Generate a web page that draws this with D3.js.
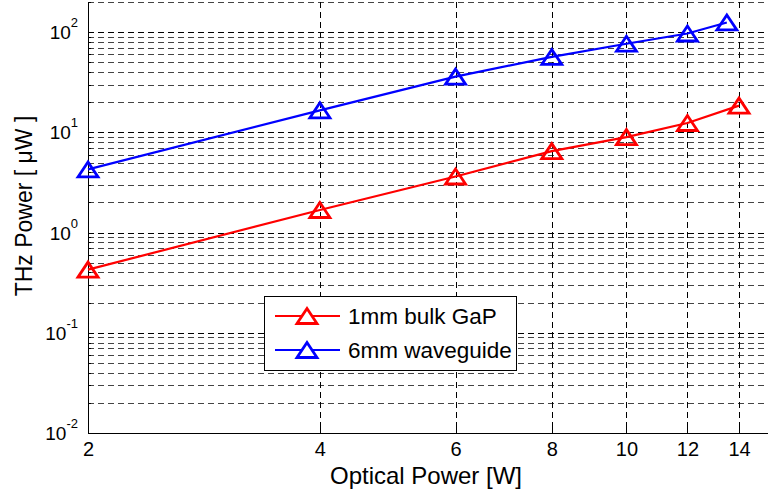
<!DOCTYPE html>
<html><head><meta charset="utf-8">
<script src="https://cdn.jsdelivr.net/npm/d3@7"></script>
<style>body{margin:0;background:#fff}svg{display:block}text{font-family:"Liberation Sans",Arial,sans-serif}</style>
</head><body>
<svg id="c" width="768" height="492"></svg>
<script>
const xValsRed = [2, 4, 6, 8, 10, 12, 14];
const redValues = [0.427, 1.68, 3.63, 6.5, 8.97, 12.4, 18.5];
const xValsBlue = [2, 4, 6, 8, 10, 12, 13.5];
const blueValues = [4.27, 16.6, 36, 56.6, 76.7, 97, 125];
const xTicks = [2, 4, 6, 8, 10, 12, 14];
const yExponents = [-2, -1, 0, 1, 2];
const seriesNames = ["1mm bulk GaP", "6mm waveguide"];
const seriesColors = ["#ff0000", "#0000ff"];

const svg = d3.select("#c");
const L = 88, T = 2, B = 433;
const x = d3.scaleLog().domain([2, 14]).range([L, 739]);
const R = 770;
const y = d3.scaleLog().domain([0.01, 200]).range([B, T]);

// grid
const g = svg.append("g").attr("shape-rendering", "crispEdges");
const minorY = [];
for (let e = -2; e <= 2; e++) for (let k = 1; k <= 9; k++) { const v = k * Math.pow(10, e); if (v <= 200 && v > 0.01) minorY.push(v); }
const isMajor = d => Math.abs(Math.log10(d) - Math.round(Math.log10(d))) < 1e-9;
g.selectAll(".hg").data(minorY).enter().append("line")
  .attr("x1", L).attr("x2", R).attr("y1", d => Math.round(y(d)) + 0.5).attr("y2", d => Math.round(y(d)) + 0.5)
  .attr("stroke", d => isMajor(d) ? "#000" : "#444")
  .attr("stroke-dasharray", "6,4").attr("stroke-width", 1);
g.selectAll(".vg").data(xTicks.slice(1)).enter().append("line")
  .attr("y1", T).attr("y2", B).attr("x1", d => Math.round(x(d)) + 0.5).attr("x2", d => Math.round(x(d)) + 0.5)
  .attr("stroke", "#000").attr("stroke-dasharray", "6,4").attr("stroke-width", 1);

// axes
const xAxis = d3.axisBottom(x).tickValues(xTicks).tickFormat(d3.format("d")).tickSizeInner(-6).tickSizeOuter(0).tickPadding(9);
const xa = svg.append("g").attr("transform", `translate(0,${B})`).attr("shape-rendering", "crispEdges").call(xAxis);
xa.select(".domain").attr("d", `M${L},0.5H${R}`).attr("stroke", "#000");
xa.selectAll("text").attr("font-size", 20).attr("fill", "#000").attr("shape-rendering", null);
const ya = svg.append("g").attr("transform", `translate(${L},0)`);
ya.append("line").attr("x1", 0.5).attr("x2", 0.5).attr("y1", T).attr("y2", B).attr("stroke", "#000").attr("shape-rendering", "crispEdges");
ya.selectAll(".mt").data(minorY).enter().append("line").attr("shape-rendering", "crispEdges")
  .attr("x1", 0).attr("x2", d => isMajor(d) ? 6 : 3)
  .attr("y1", d => Math.round(y(d)) + 0.5).attr("y2", d => Math.round(y(d)) + 0.5).attr("stroke", "#000");
const yl = ya.selectAll(".yl").data(yExponents).enter().append("text")
  .attr("x", -10).attr("y", d => y(Math.pow(10, d)) + 7).attr("text-anchor", "end").attr("font-size", 19);
yl.append("tspan").text("10");
yl.append("tspan").attr("dy", -12).attr("font-size", 13).text(d => d);

// series
function tri() { return `M-10,7.5L0,-7.5L10,7.5Z`; }
function drawSeries(xs, ys, color) {
  const pts = xs.map((v, i) => [x(v), y(ys[i])]);
  svg.append("path").attr("d", d3.line()(pts)).attr("fill", "none").attr("stroke", color).attr("stroke-width", 2.2);
  svg.selectAll(null).data(pts).enter().append("path").attr("d", tri())
    .attr("transform", d => `translate(${d[0]},${d[1]})`).attr("fill", "none").attr("stroke", color).attr("stroke-width", 2.8);
}
drawSeries(xValsRed, redValues, seriesColors[0]);
drawSeries(xValsBlue, blueValues, seriesColors[1]);

// labels
svg.append("text").attr("x", 426).attr("y", 484).attr("text-anchor", "middle").attr("font-size", 24).text("Optical Power [W]");
svg.append("text").attr("transform", "translate(32,206) rotate(-90)").attr("text-anchor", "middle").attr("font-size", 23).text("THz Power [ \u03bcW ]");

// legend
const lg = svg.append("g");
lg.append("rect").attr("x", 264.5).attr("y", 296.5).attr("width", 252).attr("height", 74).attr("fill", "#fff").attr("stroke", "#000").attr("shape-rendering", "crispEdges");
seriesNames.forEach((n, i) => {
  const cy = 316 + i * 34;
  lg.append("line").attr("x1", 275).attr("x2", 340).attr("y1", cy).attr("y2", cy).attr("stroke", seriesColors[i]).attr("stroke-width", 2.2);
  lg.append("path").attr("d", tri()).attr("transform", `translate(307,${cy})`).attr("fill", "#fff").attr("stroke", seriesColors[i]).attr("stroke-width", 2.8);
  lg.append("text").attr("x", 348).attr("y", cy + 8).attr("font-size", 22.5).text(n);
});
</script>
</body></html>
